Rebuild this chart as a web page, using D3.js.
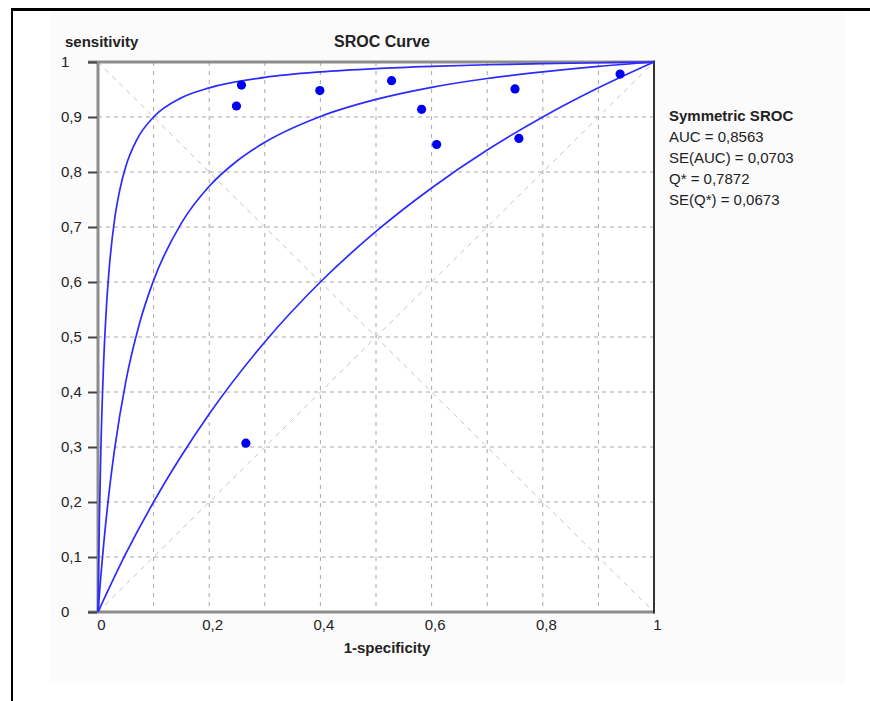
<!DOCTYPE html>
<html>
<head>
<meta charset="utf-8">
<script src="https://cdn.jsdelivr.net/npm/d3@7"></script>
<style>
  html, body { margin: 0; padding: 0; background: #ffffff; }
  svg { display: block; font-family: "Liberation Sans", Arial, sans-serif; }
</style>
</head>
<body>
<svg id="chart" width="870" height="701"></svg>
<script>
// ---- data ----
const studyFPR  = [0.258, 0.249, 0.399, 0.528, 0.582, 0.609, 0.750, 0.757, 0.939, 0.266];
const studySens = [0.958, 0.920, 0.948, 0.966, 0.914, 0.850, 0.951, 0.861, 0.978, 0.307];

const upperCurveFPR  = [0, 0.001, 0.0025, 0.005, 0.01, 0.015, 0.02, 0.03, 0.04, 0.05, 0.07, 0.1, 0.15, 0.2, 0.3, 0.4, 0.5, 0.6, 0.7, 0.8, 0.9, 1];
const upperCurveSens = [0, 0.075, 0.169, 0.289, 0.45, 0.552, 0.623, 0.715, 0.771, 0.81, 0.859, 0.9, 0.935, 0.953, 0.972, 0.982, 0.988, 0.992, 0.995, 0.997, 0.9986, 1];

const middleCurveFPR  = [0, 0.005, 0.01, 0.02, 0.03, 0.05, 0.075, 0.1, 0.15, 0.2, 0.25, 0.3, 0.4, 0.5, 0.6, 0.7, 0.8, 0.9, 1];
const middleCurveSens = [0, 0.064, 0.121, 0.218, 0.297, 0.419, 0.526, 0.603, 0.707, 0.774, 0.820, 0.854, 0.901, 0.932, 0.954, 0.970, 0.982, 0.992, 1];

const lowerCurveFPR  = [0, 0.05, 0.1, 0.15, 0.2, 0.3, 0.4, 0.5, 0.6, 0.7, 0.8, 0.9, 1];
const lowerCurveSens = [0, 0.106, 0.2, 0.284, 0.36, 0.491, 0.6, 0.692, 0.771, 0.84, 0.9, 0.953, 1];

const gridValues   = [0.1, 0.2, 0.3, 0.4, 0.5, 0.6, 0.7, 0.8, 0.9];
const yTickValues  = [0, 0.1, 0.2, 0.3, 0.4, 0.5, 0.6, 0.7, 0.8, 0.9, 1];
const yTickLabels  = ["0", "0,1", "0,2", "0,3", "0,4", "0,5", "0,6", "0,7", "0,8", "0,9", "1"];
const xTickValues  = [0, 0.2, 0.4, 0.6, 0.8, 1];
const xTickLabels  = ["0", "0,2", "0,4", "0,6", "0,8", "1"];

const chartTitle = "SROC Curve";
const yTitle = "sensitivity";
const xTitle = "1-specificity";
const legendTitle = "Symmetric SROC";
const legendLines = ["AUC = 0,8563", "SE(AUC) = 0,0703", "Q* = 0,7872", "SE(Q*) = 0,0673"];

// ---- drawing ----
const svg = d3.select("#chart");
const x = d3.scaleLinear().domain([0, 1]).range([98, 654]);
const y = d3.scaleLinear().domain([0, 1]).range([612, 62]);

// outer frame & panel
svg.append("rect").attr("x", 50).attr("y", 12).attr("width", 795).attr("height", 671).attr("fill", "#fbfbfb");
svg.append("line").attr("x1", 12).attr("x2", 870).attr("y1", 9.5).attr("y2", 9.5).attr("stroke", "#000").attr("stroke-width", 3);
svg.append("line").attr("x1", 12).attr("x2", 12).attr("y1", 8).attr("y2", 701).attr("stroke", "#000").attr("stroke-width", 2);

// plot background
svg.append("rect").attr("x", x(0)).attr("y", y(1)).attr("width", x(1) - x(0)).attr("height", y(0) - y(1)).attr("fill", "#ffffff");

// grid
const grid = svg.append("g");
grid.selectAll("line.v").data(gridValues).join("line")
  .attr("x1", d => x(d)).attr("x2", d => x(d)).attr("y1", y(1)).attr("y2", y(0))
  .attr("stroke", "#a8a8a8").attr("stroke-width", 1).attr("stroke-dasharray", "4,5");
grid.selectAll("line.h").data(gridValues).join("line")
  .attr("x1", x(0)).attr("x2", x(1)).attr("y1", d => y(d)).attr("y2", d => y(d))
  .attr("stroke", "#a8a8a8").attr("stroke-width", 1).attr("stroke-dasharray", "4,4");

// diagonals
svg.append("line").attr("x1", x(0)).attr("y1", y(0)).attr("x2", x(1)).attr("y2", y(1))
  .attr("stroke", "#c4c4c4").attr("stroke-width", 1).attr("stroke-dasharray", "5,5");
svg.append("line").attr("x1", x(0)).attr("y1", y(1)).attr("x2", x(1)).attr("y2", y(0))
  .attr("stroke", "#c4c4c4").attr("stroke-width", 1).attr("stroke-dasharray", "5,5");

// frame lines
svg.append("line").attr("x1", 88).attr("x2", x(1)).attr("y1", y(1)).attr("y2", y(1)).attr("stroke", "#8c8c8c").attr("stroke-width", 3);
svg.append("line").attr("x1", 88).attr("x2", x(1)).attr("y1", y(0)).attr("y2", y(0)).attr("stroke", "#8c8c8c").attr("stroke-width", 3);
svg.append("line").attr("x1", x(0)).attr("x2", x(0)).attr("y1", y(1)).attr("y2", y(0)).attr("stroke", "#8c8c8c").attr("stroke-width", 3);
svg.append("line").attr("x1", x(1)).attr("x2", x(1)).attr("y1", y(1) - 1.5).attr("y2", y(0) + 1.5).attr("stroke", "#333").attr("stroke-width", 2);

// y axis
const yAxis = d3.axisLeft(y).tickValues(yTickValues).tickFormat((d, i) => yTickLabels[i]).tickSize(9).tickPadding(0);
const yg = svg.append("g").attr("transform", `translate(${x(0) - 1},0)`).call(yAxis);
yg.select(".domain").remove();
yg.selectAll(".tick line").attr("stroke", "#444").attr("stroke-width", 2);
yg.selectAll(".tick text").attr("text-anchor", "start").attr("x", -36)
  .attr("font-size", 15).attr("fill", "#222").attr("font-family", "Liberation Sans, Arial, sans-serif");

// x axis
const xAxis = d3.axisBottom(x).tickValues(xTickValues).tickFormat((d, i) => xTickLabels[i]).tickSize(0).tickPadding(7);
const xg = svg.append("g").attr("transform", `translate(3,${y(0)})`).call(xAxis);
xg.select(".domain").remove();
xg.selectAll(".tick text").attr("font-size", 15).attr("fill", "#222").attr("font-family", "Liberation Sans, Arial, sans-serif");

// curves
const line = d3.line().x(d => x(d[0])).y(d => y(d[1])).curve(d3.curveMonotoneX);
const curves = [
  d3.zip(upperCurveFPR, upperCurveSens),
  d3.zip(middleCurveFPR, middleCurveSens),
  d3.zip(lowerCurveFPR, lowerCurveSens)
];
svg.append("g").selectAll("path").data(curves).join("path")
  .attr("d", line).attr("fill", "none").attr("stroke", "#2b2bff").attr("stroke-width", 1.7);

// study points
svg.append("g").selectAll("circle").data(d3.zip(studyFPR, studySens)).join("circle")
  .attr("cx", d => x(d[0])).attr("cy", d => y(d[1])).attr("r", 4.6).attr("fill", "#0000f0");

// titles
svg.append("text").attr("x", 65).attr("y", 47).attr("font-size", 15).attr("font-weight", "bold").attr("fill", "#222").text(yTitle);
svg.append("text").attr("x", 382).attr("y", 47).attr("text-anchor", "middle").attr("font-size", 16).attr("font-weight", "bold").attr("fill", "#222").text(chartTitle);
svg.append("text").attr("x", 387).attr("y", 653).attr("text-anchor", "middle").attr("font-size", 15).attr("font-weight", "bold").attr("fill", "#222").text(xTitle);

// legend
const lg = svg.append("g").attr("transform", "translate(669,0)");
lg.append("text").attr("x", 0).attr("y", 121).attr("font-size", 15).attr("font-weight", "bold").attr("fill", "#222").text(legendTitle);
lg.selectAll("text.l").data(legendLines).join("text").attr("class", "l")
  .attr("x", 0).attr("y", (d, i) => 142 + i * 21).attr("font-size", 15).attr("fill", "#222").text(d => d);
</script>
</body>
</html>
